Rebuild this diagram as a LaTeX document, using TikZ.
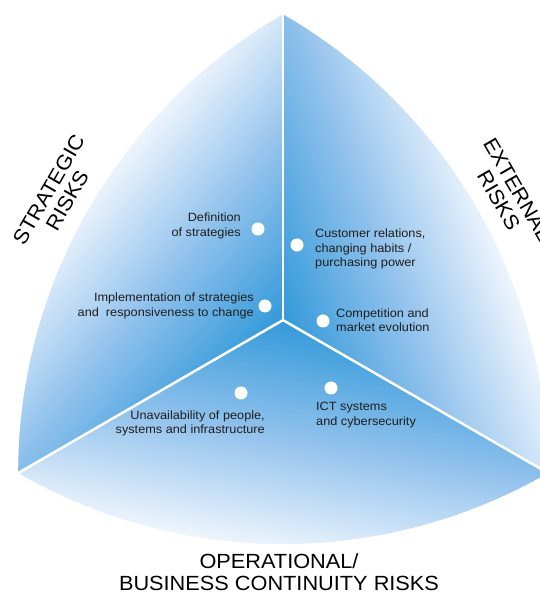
\documentclass[tikz,border=0pt]{standalone}
\usepackage{fontspec}
\setmainfont{Liberation Sans}[FakeStretch=1.06]
\definecolor{cdark}{RGB}{52,154,218}
\definecolor{cmid}{RGB}{146,194,237}
\definecolor{clight}{RGB}{240,246,253}
\definecolor{ctext}{RGB}{30,30,30}
\newcommand\mysectorshade[1]{%
  \begin{scope}[shift={(C)},rotate=#1]
    \fill[cdark] (-700,-700) rectangle (0.5,700);
    \fill[clight] (230,-700) rectangle (700,700);
    \foreach \i in {0,...,99}{%
      \pgfmathsetmacro\pa{min(2*\i,100)}%
      \pgfmathsetmacro\pb{max(2*\i-100,0)}%
      \pgfmathsetmacro\xa{2.3*\i}%
      \pgfmathsetmacro\xb{2.3*\i+3.3}%
      \fill[clight!\pb!cmid!\pa!cdark] (\xa,-700) rectangle (\xb,700);
    }
  \end{scope}}
\begin{document}
\begin{tikzpicture}[x=1pt,y=1pt,
  dot/.style={circle,fill=white,inner sep=0pt,minimum size=13pt},
  lbl/.style={text=ctext,font=\fontsize{12}{14.5}\selectfont,inner sep=0pt},
  biglbl/.style={text=black,font=\fontsize{20.5}{21.5}\selectfont,inner sep=0pt,align=center},
  sep/.style={white,line width=2.5pt}]
\clip (0,0) rectangle (540,597);
\coordinate (C) at (283,276.9);
\coordinate (T) at (283,582.6);
\coordinate (BL) at (18.2,124);
\coordinate (BR) at (547.8,124);
% left sector
\begin{scope}
  \clip (C) -- (T) arc[start angle=120,end angle=180,radius=529.6pt] -- cycle;
  \mysectorshade{140}
\end{scope}
% right sector
\begin{scope}
  \clip (C) -- (BR) arc[start angle=0,end angle=60,radius=529.6pt] -- cycle;
  \mysectorshade{20}
\end{scope}
% bottom sector
\begin{scope}
  \clip (C) -- (BL) arc[start angle=240,end angle=300,radius=529.6pt] -- cycle;
  \mysectorshade{260}
\end{scope}
\draw[sep] (C) -- (T);
\draw[sep] (C) -- (BL);
\draw[sep] (C) -- (BR);
% dots
\node[dot] (d1) at (258,368) {};
\node[dot] (d2) at (265,291) {};
\node[dot] (d3) at (297,352) {};
\node[dot] (d4) at (323,276) {};
\node[dot] (d5) at (241,204) {};
\node[dot] (d6) at (331,209) {};
% labels
\node[lbl,align=right,anchor=east] (t1) at (241,371) {Definition\\of strategies};
\node[lbl,align=right,anchor=east] (t2) at (254,291) {Implementation of strategies\\and\ \ responsiveness to change};
\node[lbl,align=left,anchor=west] (t3) at (315,348) {Customer relations,\\changing habits /\\purchasing power};
\node[lbl,align=left,anchor=west] (t4) at (336,277) {Competition and\\market evolution};
\node[lbl,align=right,anchor=east] (t5) at (265,173.5) {Unavailability of people,\\systems and infrastructure};
\node[lbl,align=left,anchor=west] (t6) at (316,182) {ICT systems\\and cybersecurity};
% big labels
\node[biglbl,rotate=60] (s) at (58,402) {STRATEGIC\\RISKS};
\node[biglbl,rotate=-60] (e) at (508,402) {EXTERNAL\\RISKS};
\node[biglbl] (o) at (279,25) {OPERATIONAL/\\BUSINESS CONTINUITY RISKS};
\end{tikzpicture}
\end{document}
